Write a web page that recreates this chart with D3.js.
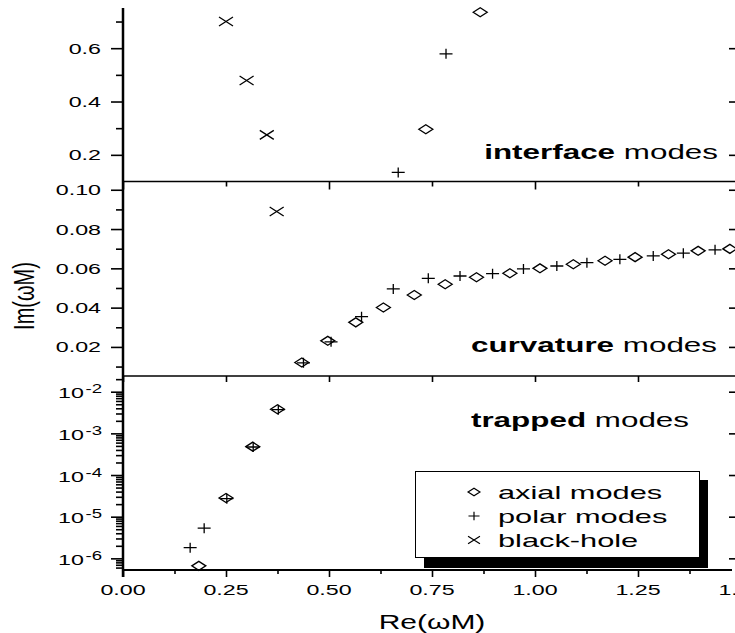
<!DOCTYPE html>
<html>
<head>
<meta charset="utf-8">
<script src="https://cdn.jsdelivr.net/npm/d3@7"></script>
<style>
  body { margin: 0; background: #fff; }
  svg { display: block; }
  text { font-family: "Liberation Sans", Arial, sans-serif; fill: #000; }
</style>
</head>
<body>
<div id="chart"></div>
<script>
// Data: Re(wM) and Im(wM) for each mode family
var interfaceAxialRe = [0.735, 0.867];
var interfaceAxialIm = [0.296, 0.735];
var interfacePolarRe = [0.668, 0.784];
var interfacePolarIm = [0.134, 0.579];
var interfaceBhRe = [0.250, 0.300, 0.349];
var interfaceBhIm = [0.700, 0.479, 0.275];

var curvAxialRe = [0.434, 0.497, 0.565, 0.632, 0.707, 0.782, 0.858, 0.939, 1.012, 1.093, 1.170, 1.243, 1.324, 1.396, 1.473];
var curvAxialIm = [0.0121, 0.0231, 0.0325, 0.0401, 0.0464, 0.0519, 0.0555, 0.0575, 0.0600, 0.0621, 0.0639, 0.0657, 0.0672, 0.0689, 0.0699];
var curvPolarRe = [0.438, 0.505, 0.579, 0.656, 0.741, 0.818, 0.897, 0.972, 1.053, 1.126, 1.206, 1.287, 1.360, 1.437];
var curvPolarIm = [0.0119, 0.0226, 0.0354, 0.0495, 0.0549, 0.0561, 0.0573, 0.0597, 0.0612, 0.0629, 0.0646, 0.0663, 0.0677, 0.0694];
var curvBhRe = [0.373];
var curvBhIm = [0.0889];

var trapAxialRe = [0.184, 0.250, 0.315, 0.375];
var trapAxialIm = [6.6e-7, 2.8e-5, 4.8e-4, 3.8e-3];
var trapPolarRe = [0.163, 0.197, 0.252, 0.316, 0.377];
var trapPolarIm = [1.8e-6, 5.3e-6, 2.7e-5, 4.7e-4, 3.7e-3];

// Tick values
var xTicks = [0, 0.25, 0.5, 0.75, 1.0, 1.25, 1.5];
var topTicks = [0.2, 0.4, 0.6];
var topMinor = [0.3, 0.5, 0.7];
var midTicks = [0.02, 0.04, 0.06, 0.08, 0.10];
var midMinor = [0.01, 0.03, 0.05, 0.07, 0.09];
var botExps = [-6, -5, -4, -3, -2];

var legendLabels = ['axial modes', 'polar modes', 'black-hole'];

var width = 735, height = 633;
var sx = 1.55; // glyphs in the original are stretched horizontally

var svg = d3.select('#chart').append('svg')
    .attr('width', width)
    .attr('height', height);

var x = d3.scaleLinear().domain([0, 1.5]).range([123, 741]);
var yTop = d3.scaleLinear().domain([0.1, 0.75]).range([181.5, 8.2]);
var yMid = d3.scaleLinear().domain([0.0052, 0.1042]).range([376, 181.5]);
var yBot = d3.scaleLog().domain([Math.pow(10, -6.28), Math.pow(10, -1.623)]).range([570, 376]);

// log minor ticks
var botMinor = [];
for (var e = -7; e <= -2; e++) {
    for (var k = 2; k <= 9; k++) {
        var v = k * Math.pow(10, e);
        if (v >= yBot.domain()[0] && v <= yBot.domain()[1]) botMinor.push(v);
    }
}

function ticks(g, axis) {
    g.call(axis);
    g.select('.domain').remove();
    g.selectAll('line').attr('stroke', '#000').attr('stroke-width', 1.6);
}

function label(x0, y0, txt, size, anchor, scale) {
    return svg.append('text')
        .attr('transform', 'translate(' + x0 + ',' + y0 + ') scale(' + (scale || sx) + ',1)')
        .attr('text-anchor', anchor)
        .attr('font-size', size)
        .text(txt);
}

// y ticks: left outward, right inward (right axis sits just outside the picture)
[[yTop, topTicks, topMinor], [yMid, midTicks, midMinor], [yBot, botExps.map(function(e) { return Math.pow(10, e); }), botMinor]]
    .forEach(function(p) {
        ticks(svg.append('g').attr('transform', 'translate(123,0)'),
              d3.axisLeft(p[0]).tickValues(p[1]).tickSize(12).tickFormat(''));
        ticks(svg.append('g').attr('transform', 'translate(123,0)'),
              d3.axisLeft(p[0]).tickValues(p[2]).tickSize(7).tickFormat(''));
        ticks(svg.append('g').attr('transform', 'translate(741,0)'),
              d3.axisLeft(p[0]).tickValues(p[1]).tickSize(12).tickFormat(''));
        ticks(svg.append('g').attr('transform', 'translate(741,0)'),
              d3.axisLeft(p[0]).tickValues(p[2]).tickSize(6).tickFormat(''));
    });

// x ticks on the panel borders
ticks(svg.append('g').attr('transform', 'translate(0,181.5)'),
      d3.axisBottom(x).tickValues([0, 0.5, 1.0, 1.5]).tickSize(8).tickFormat(''));
ticks(svg.append('g').attr('transform', 'translate(0,181.5)'),
      d3.axisBottom(x).tickValues([0.25, 0.75, 1.25]).tickSize(5).tickFormat(''));
ticks(svg.append('g').attr('transform', 'translate(0,376)'),
      d3.axisBottom(x).tickValues(xTicks).tickSize(6).tickFormat(''));
ticks(svg.append('g').attr('transform', 'translate(0,570)'),
      d3.axisBottom(x).tickValues(xTicks).tickSize(7).tickFormat(''));
ticks(svg.append('g').attr('transform', 'translate(0,570)'),
      d3.axisBottom(x).tickValues(xTicks.slice(0, -1).map(function(d) { return d + 0.125; })).tickSize(4).tickFormat(''));

// frame lines
svg.append('line').attr('x1', 123).attr('x2', 741).attr('y1', 181.5).attr('y2', 181.5)
    .attr('stroke', '#000').attr('stroke-width', 1.5);
svg.append('line').attr('x1', 123).attr('x2', 741).attr('y1', 376).attr('y2', 376)
    .attr('stroke', '#000').attr('stroke-width', 1.5);
svg.append('line').attr('x1', 122).attr('x2', 732).attr('y1', 570).attr('y2', 570)
    .attr('stroke', '#000').attr('stroke-width', 2);
svg.append('line').attr('x1', 123).attr('x2', 123).attr('y1', 8).attr('y2', 577)
    .attr('stroke', '#000').attr('stroke-width', 2.5);

// tick labels
topTicks.forEach(function(d) { label(101, yTop(d) + 5.5, d3.format('.1f')(d), 15, 'end'); });
midTicks.forEach(function(d) { label(101, yMid(d) + 5.5, d3.format('.2f')(d), 15, 'end'); });
botExps.forEach(function(e) {
    var t = label(102, yBot(Math.pow(10, e)) + 6.5, '', 15, 'end');
    t.append('tspan').text('10');
    t.append('tspan').attr('font-size', 12).attr('dx', 1).attr('dy', -5).text('-' + (-e));
});
xTicks.forEach(function(d) { label(x(d), 595, d3.format('.2f')(d), 15, 'middle'); });

// axis titles
label(432, 629, 'Re(\u03C9M)', 20, 'middle', 1.5);
svg.append('text')
    .attr('transform', 'translate(34,296) scale(1.5,1) rotate(-90)')
    .attr('text-anchor', 'middle')
    .attr('font-size', 20)
    .text('Im(\u03C9M)');

// panel labels
[['interface', 718, 159], ['curvature', 717, 352], ['trapped', 689, 427]].forEach(function(p) {
    var t = label(p[1], p[2], '', 20, 'end', 1.57);
    t.append('tspan').attr('font-weight', 'bold').text(p[0]);
    t.append('tspan').text(' modes');
});

// markers
var diamond = 'M-7,0L0,-4.5L7,0L0,4.5Z';
var plus = 'M-6.5,0H6.5M0,-5V5';
var cross = 'M-7,-4.5L7,4.5M-7,4.5L7,-4.5';

function markers(re, im, y, shape) {
    svg.append('g').selectAll('path')
        .data(d3.zip(re, im))
        .enter().append('path')
        .attr('transform', function(d) { return 'translate(' + x(d[0]) + ',' + y(d[1]) + ')'; })
        .attr('d', shape)
        .attr('fill', 'none')
        .attr('stroke', '#000')
        .attr('stroke-width', 1.3);
}

markers(interfaceAxialRe, interfaceAxialIm, yTop, diamond);
markers(interfacePolarRe, interfacePolarIm, yTop, plus);
markers(interfaceBhRe, interfaceBhIm, yTop, cross);
markers(curvAxialRe, curvAxialIm, yMid, diamond);
markers(curvPolarRe, curvPolarIm, yMid, plus);
markers(curvBhRe, curvBhIm, yMid, cross);
markers(trapAxialRe, trapAxialIm, yBot, diamond);
markers(trapPolarRe, trapPolarIm, yBot, plus);

// legend with drop shadow
svg.append('rect').attr('x', 424).attr('y', 480).attr('width', 284).attr('height', 88).attr('fill', '#000');
svg.append('rect').attr('x', 415.5).attr('y', 471.5).attr('width', 284).attr('height', 86)
    .attr('fill', '#fff').attr('stroke', '#000').attr('stroke-width', 1);
[diamond, plus, cross].forEach(function(s, i) {
    var cy = 492 + i * 24;
    svg.append('path')
        .attr('transform', 'translate(474,' + cy + ') scale(0.85)')
        .attr('d', s)
        .attr('fill', 'none')
        .attr('stroke', '#000')
        .attr('stroke-width', 1.4);
    label(498, cy + 6.5, legendLabels[i], 19, 'start', 1.62);
});
</script>
</body>
</html>
